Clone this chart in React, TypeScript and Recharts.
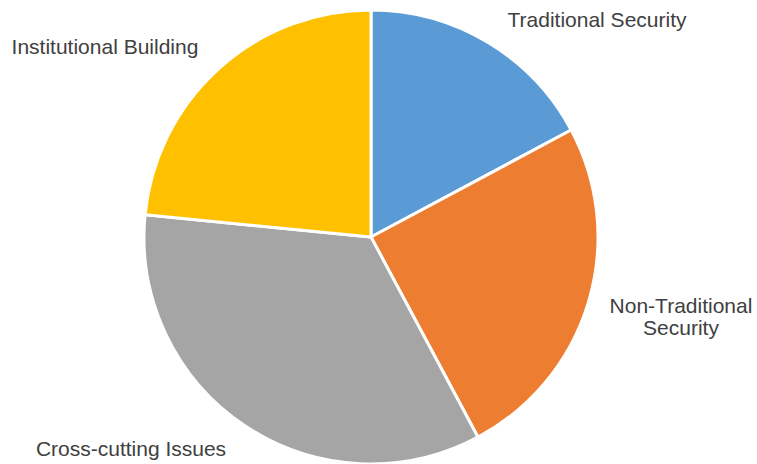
import { Cell, Pie, PieChart } from "recharts"

const categories = [
  "Traditional Security",
  "Non-Traditional Security",
  "Cross-cutting Issues",
  "Institutional Building",
]

const counts = [22, 32, 44, 30]

const colors = ["#5b9bd5", "#ed7d31", "#a5a5a5", "#ffc000"]

// label lines (text split) per category
const labelLines = [
  ["Traditional Security"],
  ["Non-Traditional", "Security"],
  ["Cross-cutting Issues"],
  ["Institutional Building"],
]

const data = categories.map((name, i) => ({ name, value: counts[i] }))

// offsets of label anchors from the pie centre
const labelOffsets = [
  { dx: 226, dy: -210 },
  { dx: 310, dy: 76 },
  { dx: -240, dy: 219 },
  { dx: -266, dy: -183 },
]

const renderLabel = (props: any) => {
  const { cx, cy, index } = props
  const off = labelOffsets[index]
  const lines = labelLines[index]
  return (
    <text
      x={cx + off.dx}
      y={cy + off.dy}
      textAnchor="middle"
      fill="#404040"
      fontSize={21}
      fontFamily="'Liberation Sans', Arial, sans-serif"
    >
      {lines.map((l, i) => (
        <tspan key={i} x={cx + off.dx} dy={i === 0 ? 0 : 22}>
          {l}
        </tspan>
      ))}
    </text>
  )
}

export default function App() {
  return (
    <div
      style={{
        position: "absolute",
        top: 0,
        left: 0,
        width: 757,
        height: 464,
        background: "#fff",
      }}
    >
      <PieChart width={757} height={464} margin={{ top: 0, right: 0, bottom: 0, left: 0 }}>
        <Pie
          data={data}
          dataKey="value"
          nameKey="name"
          cx={371}
          cy={237}
          outerRadius={227}
          startAngle={90}
          endAngle={-270}
          stroke="#ffffff"
          strokeWidth={3}
          label={renderLabel}
          labelLine={false}
          isAnimationActive={false}
        >
          {data.map((d, i) => (
            <Cell key={d.name} fill={colors[i]} />
          ))}
        </Pie>
      </PieChart>
    </div>
  )
}
